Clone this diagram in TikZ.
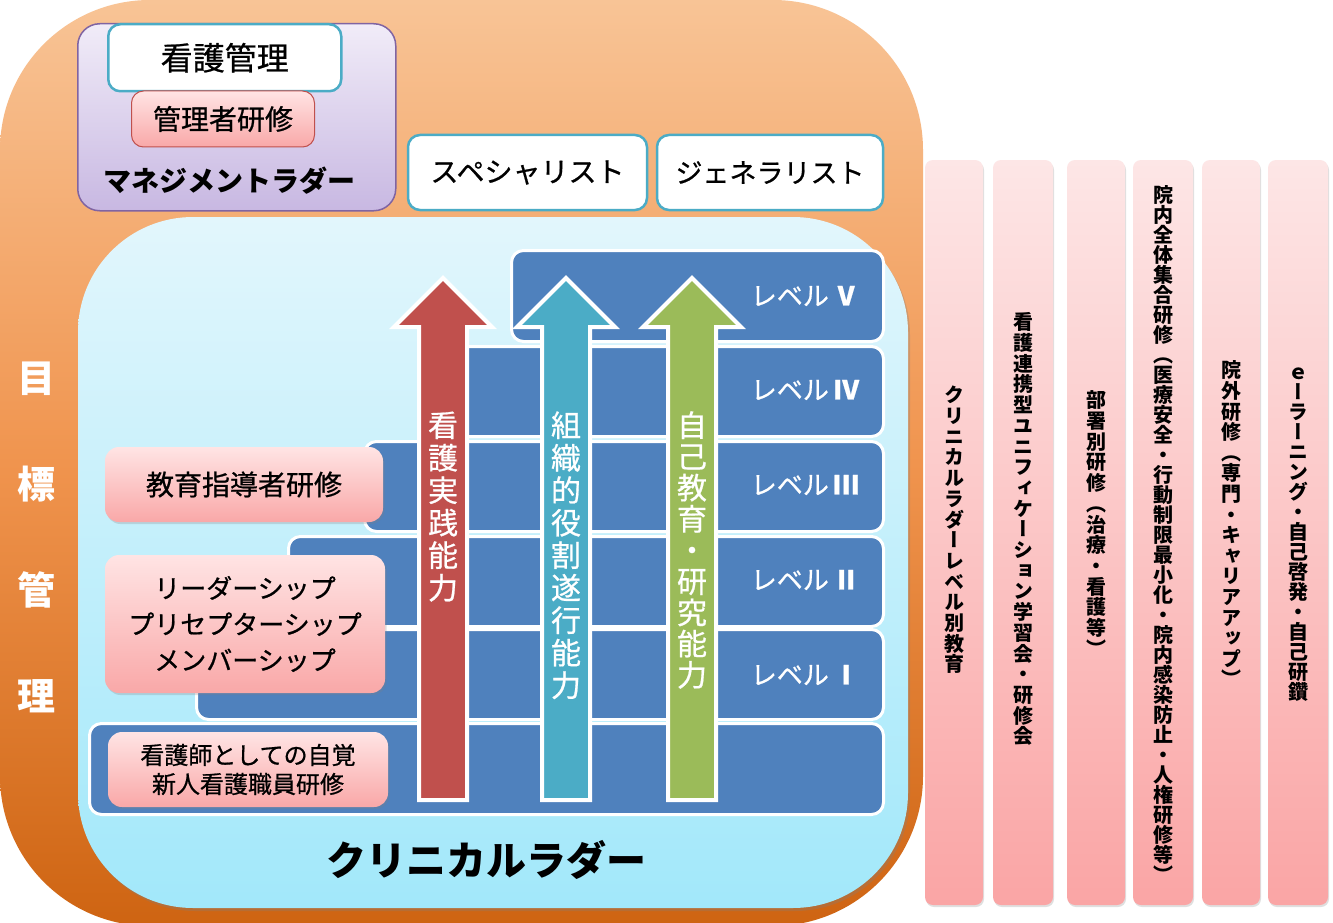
\documentclass[tikz,border=0pt]{standalone}
\usepackage{fontspec}
\usepackage{graphicx}
\setmainfont{Noto Sans CJK JP}
\newfontfamily\jpm{Noto Sans CJK JP}[FakeBold=0.7]
\newfontfamily\jpv{Noto Sans CJK JP}[RawFeature=+vert]
\newfontfamily\jpvm{Noto Sans CJK JP}[RawFeature=+vert, FakeBold=0.7]
\newfontfamily\numfont{Liberation Serif}
\usetikzlibrary{shadows}
\definecolor{orTop}{RGB}{248,196,150}
\definecolor{orMid}{RGB}{240,148,78}
\definecolor{orBot}{RGB}{206,100,18}
\definecolor{cyTop}{RGB}{226,246,252}
\definecolor{cyBot}{RGB}{162,232,250}
\definecolor{puTop}{RGB}{241,236,248}
\definecolor{puBot}{RGB}{200,184,226}
\definecolor{puLine}{RGB}{128,100,162}
\definecolor{teal}{RGB}{75,172,198}
\definecolor{pkTop}{RGB}{255,228,228}
\definecolor{pkBot}{RGB}{249,168,168}
\definecolor{pkLine}{RGB}{192,80,77}
\definecolor{stepBlue}{RGB}{79,129,189}
\definecolor{arRed}{RGB}{192,80,77}
\definecolor{arTeal}{RGB}{75,172,198}
\definecolor{arGreen}{RGB}{155,187,89}
\definecolor{colTop}{RGB}{253,230,230}
\definecolor{colBot}{RGB}{250,165,165}
\makeatletter
\newcommand\vstack[2]{\vbox{\offinterlineskip\@tfor\vch:=#2\do{\hbox to 1em{\hss\vrule height .88em depth .12em width 0pt\vch\hss}\kern#1}}}
\makeatother
\newcommand\lvnum[1]{\,{\bfseries #1}}
\newcommand\bigarrow[2]{%
  \filldraw[fill=#2, draw=white, line width=4pt, line join=miter]
    (#1,278) -- (#1+49,327) -- (#1+24,327) -- (#1+24,800) -- (#1-24,800)
    -- (#1-24,327) -- (#1-49,327) -- cycle;}
\tikzset{
  whitebox/.style={draw=teal, line width=2.5pt, fill=white, rounded corners=12pt, inner sep=0pt},
  pinkbox/.style={top color=pkTop, bottom color=pkBot, rounded corners=14pt, inner sep=0pt,
    drop shadow={opacity=.25, shadow xshift=1.5pt, shadow yshift=-2pt}},
  stepbox/.style={fill=stepBlue, draw=white, line width=3pt, rounded corners=12pt, anchor=north west, inner sep=0pt},
  column/.style={top color=colTop, bottom color=colBot, rounded corners=8pt, inner sep=0pt,
    drop shadow={opacity=.25, shadow xshift=1pt, shadow yshift=-2pt}},
  lvl/.style={text=white, font=\jpm\fontsize{26}{30}\selectfont},
  coltext/.style={anchor=north, inner sep=0pt, font=\jpv\bfseries\fontsize{20}{20}\selectfont},
  artext/.style={anchor=north, inner sep=0pt, text=white, font=\jpvm\fontsize{30}{30}\selectfont},
}
\begin{document}
\begin{tikzpicture}[x=1pt,y=-1pt]
\useasboundingbox (0,0) rectangle (1333,923);
\fill[white] (0,0) rectangle (1333,923);
% outer orange panel
\path[top color=orTop, bottom color=orBot, middle color=orMid, rounded corners=150pt] (0,0) rectangle (923,926);
% cyan clinical ladder panel
\path[top color=cyTop, bottom color=cyBot, rounded corners=115pt,
  drop shadow={opacity=.3, shadow xshift=2pt, shadow yshift=-3pt}] (78,217) rectangle (908,908);
% management ladder
\node[top color=puTop, bottom color=puBot, draw=puLine, line width=1.5pt, rounded corners=22pt,
  minimum width=318pt, minimum height=187pt, anchor=north west] (mgmt) at (77,23) {};
\node[whitebox, minimum width=233pt, minimum height=67pt, anchor=north west,
  font=\jpm\fontsize{32}{36}\selectfont] (kango) at (107,23) {看護管理};
\node[top color=pkTop, bottom color=pkBot, draw=pkLine, line width=1pt, rounded corners=12pt,
  minimum width=183pt, minimum height=56pt, font=\jpm\fontsize{28}{32}\selectfont] (kanri) at (223,119) {管理者研修};
\node[font=\bfseries\fontsize{28}{32}\selectfont] (mladder) at (229,181) {マネジメントラダー};
% specialist / generalist
\node[whitebox, minimum width=239pt, minimum height=75pt, font=\jpm\fontsize{28}{32}\selectfont] (spec) at (527.5,172.5) {スペシャリスト};
\node[whitebox, minimum width=226pt, minimum height=75pt, font=\jpm\fontsize{27}{32}\selectfont] (gen) at (770,172.5) {ジェネラリスト};
% ladder steps
\node[stepbox, minimum width=794pt, minimum height=91pt] (r0) at (88,722) {};
\node[stepbox, minimum width=687pt, minimum height=90pt] (r1) at (195,628) {};
\node[stepbox, minimum width=595pt, minimum height=90pt] (r2) at (287,535) {};
\node[stepbox, minimum width=519pt, minimum height=90pt] (r3) at (363,440) {};
\node[stepbox, minimum width=452pt, minimum height=90pt] (r4) at (430,345) {};
\node[stepbox, minimum width=372pt, minimum height=91pt] (r5) at (510,249) {};
\node[lvl] (lv5) at (805,296) {レベル\lvnum{Ⅴ}};
\node[lvl] (lv4) at (805,390) {レベル\lvnum{Ⅳ}};
\node[lvl] (lv3) at (805,485) {レベル\lvnum{Ⅲ}};
\node[lvl] (lv2) at (805,580) {レベル\lvnum{Ⅱ}};
\node[lvl] (lv1) at (805,675) {レベル\lvnum{Ⅰ}};
% arrows
\bigarrow{443}{arRed}
\bigarrow{566}{arTeal}
\bigarrow{692}{arGreen}
\node[artext] (a1) at (443,410) {\vstack{2.5pt}{看護実践能力}};
\node[artext] (a2) at (566,410) {\vstack{2.5pt}{組織的役割遂行能力}};
\node[artext] (a3) at (692,410) {\vstack{1.2pt}{自己教育・研究能力}};
% pink boxes
\node[pinkbox, minimum width=278pt, minimum height=75pt, font=\jpm\fontsize{28}{32}\selectfont] (edu) at (244,484.5) {教育指導者研修};
\node[pinkbox, minimum width=280pt, minimum height=138pt, align=center, font=\jpm\fontsize{26}{36}\selectfont] (lead) at (245,624) {リーダーシップ\\プリセプターシップ\\メンバーシップ};
\node[pinkbox, minimum width=280pt, minimum height=75pt, align=center, font=\jpm\fontsize{24}{29}\selectfont] (new) at (248,769.5) {看護師としての自覚\\新人看護職員研修};
\node[font=\bfseries\fontsize{40}{44}\selectfont] (cl) at (486,860) {クリニカルラダー};
% goal management
\node[anchor=north, inner sep=0pt, text=white, font=\jpv\bfseries\fontsize{38}{38}\selectfont] (goal) at (36,359) {\vstack{68pt}{目標管理}};
% right columns
\node[column, minimum width=58pt, minimum height=745pt] (c1) at (954,532.5) {};
\node[column, minimum width=60pt, minimum height=745pt] (c2) at (1023,532.5) {};
\node[column, minimum width=58pt, minimum height=745pt] (c3) at (1096,532.5) {};
\node[column, minimum width=60pt, minimum height=745pt] (c4) at (1163,532.5) {};
\node[column, minimum width=58pt, minimum height=745pt] (c5) at (1231,532.5) {};
\node[column, minimum width=60pt, minimum height=745pt] (c6) at (1298,532.5) {};
\node[coltext] (t1) at (954,385) {\vstack{0.7pt}{クリニカルラダーレベル別教育}};
\node[coltext] (t2) at (1023,312) {\vstack{0.7pt}{看護連携型ユニフィケーション学習会・研修会}};
\node[coltext] (t3) at (1096,390) {\vstack{0.7pt}{部署別研修（治療・看護等）}};
\node[coltext] (t4) at (1163,185) {\vstack{0pt}{院内全体集合研修（医療安全・行動制限最小化・院内感染防止・人権研修等）}};
\node[coltext] (t5) at (1231,360) {\vstack{0.6pt}{院外研修（専門・キャリアアップ）}};
\node[coltext] (t6) at (1298,362) {\vstack{0pt}{ｅーラーニング・自己啓発・自己研鑽}};
\end{tikzpicture}
\end{document}
